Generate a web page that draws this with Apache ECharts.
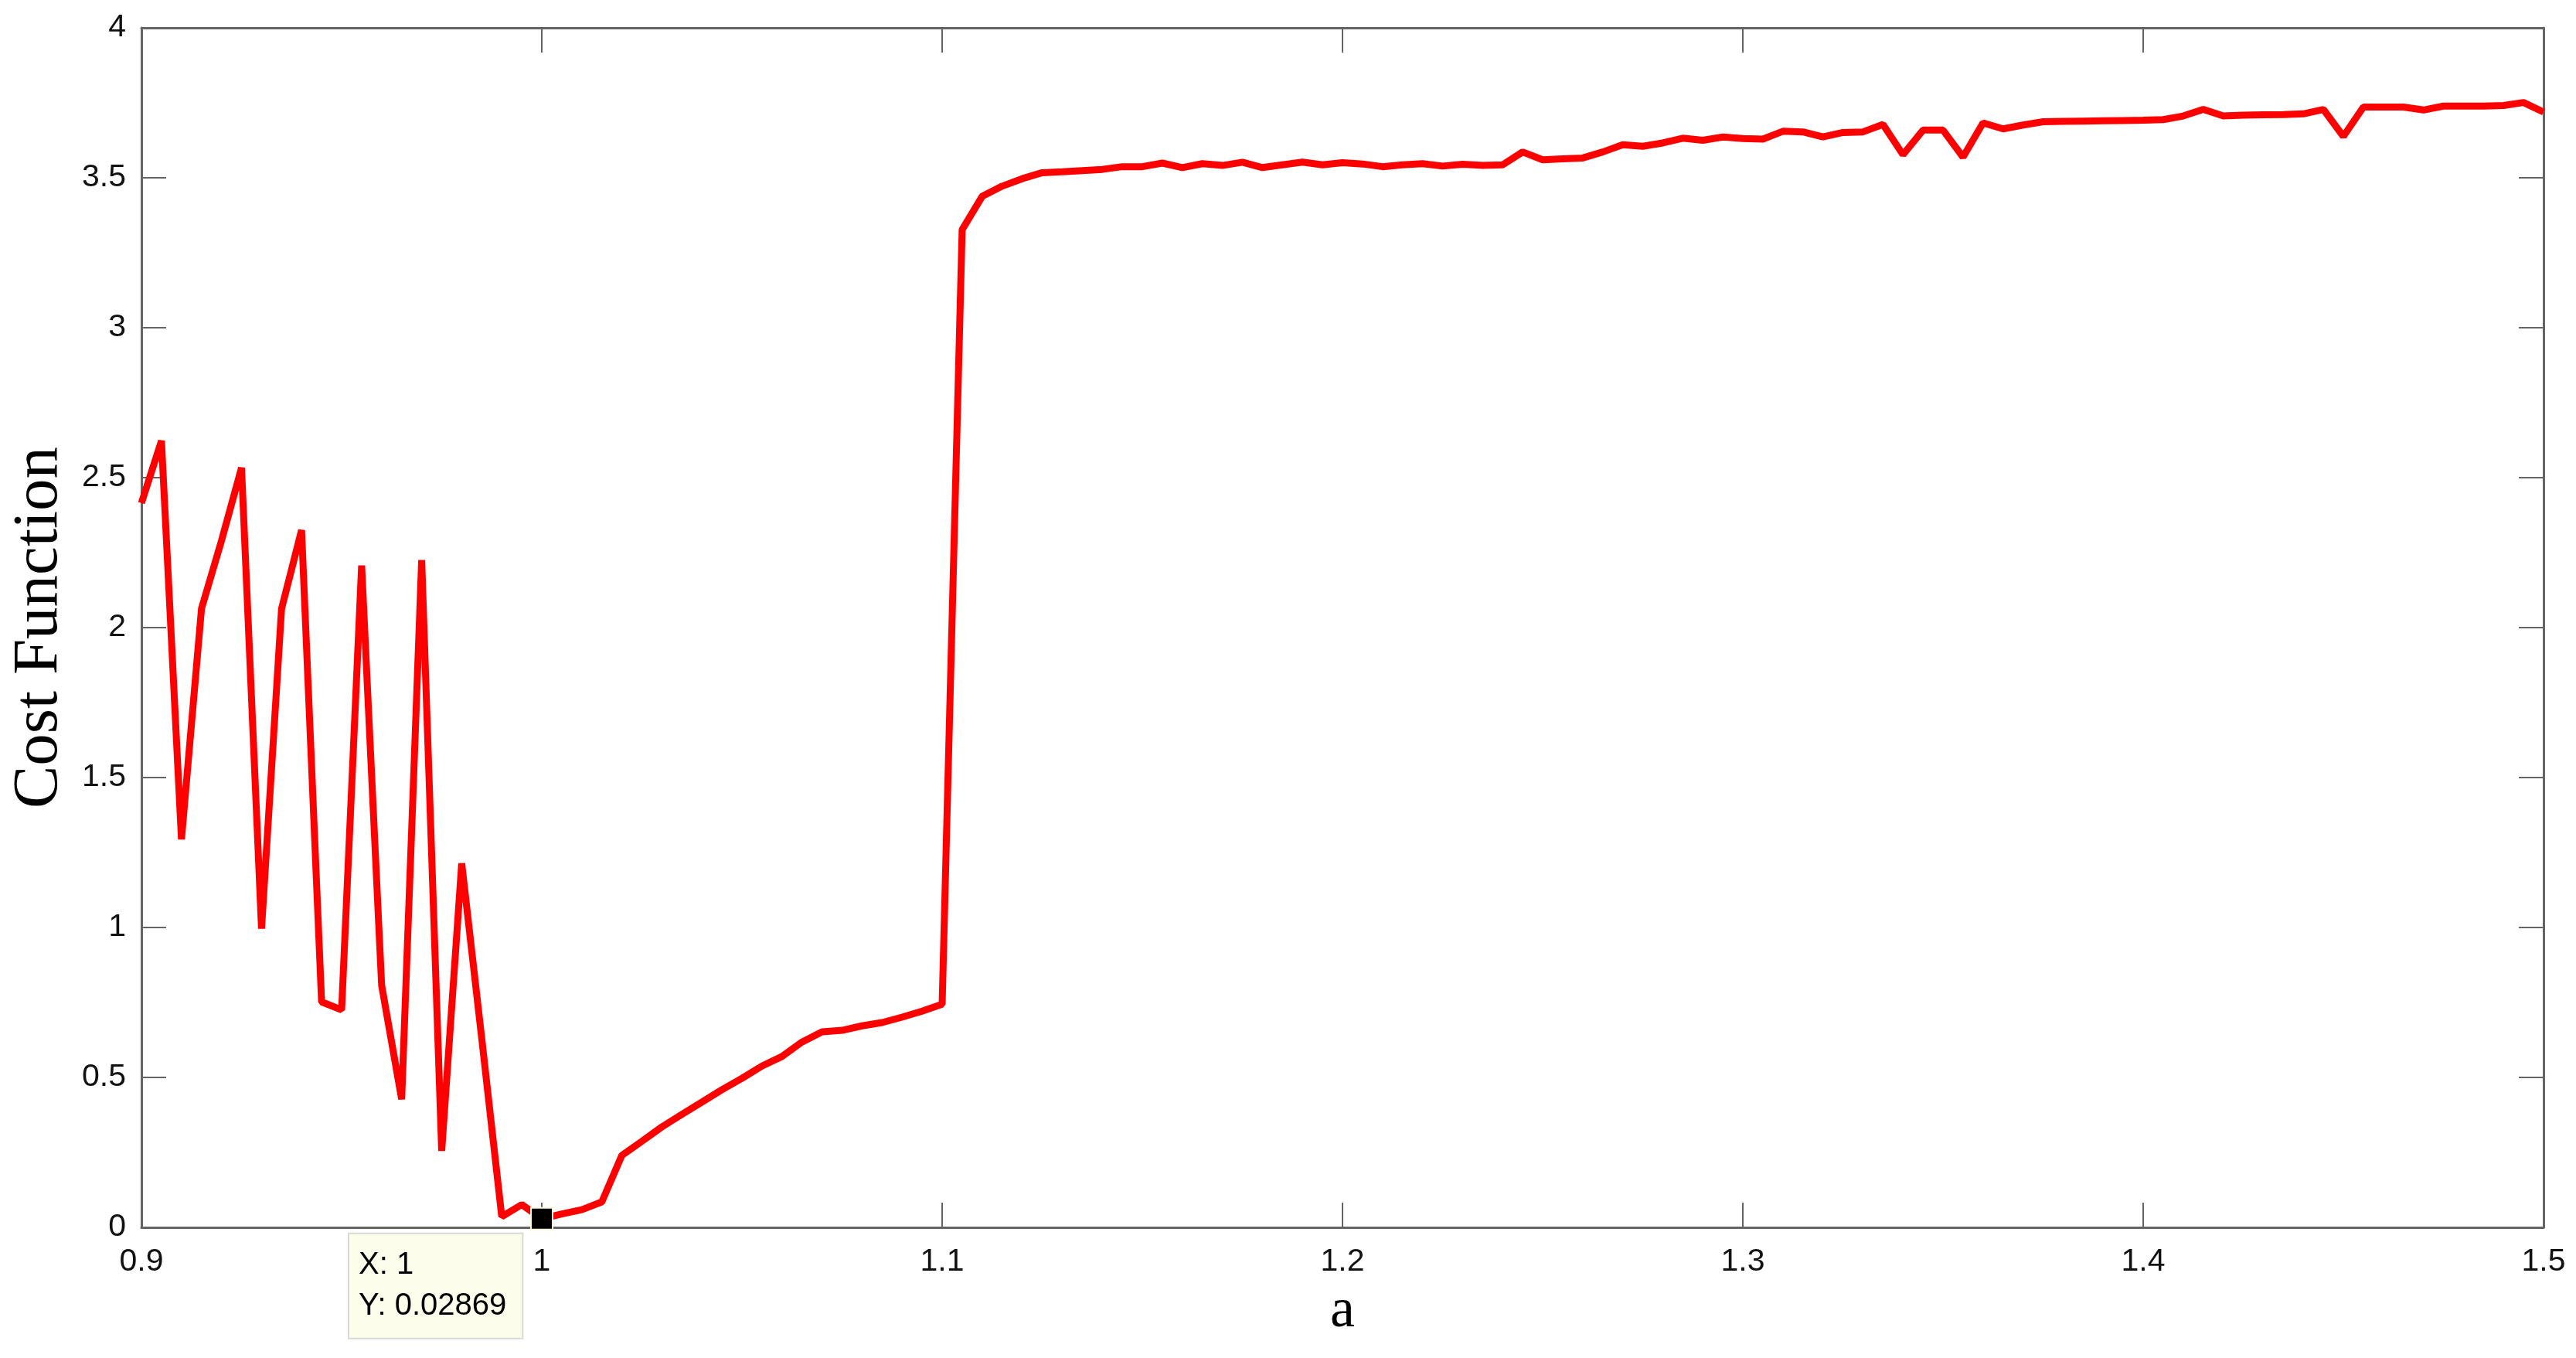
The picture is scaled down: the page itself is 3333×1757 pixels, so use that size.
<!DOCTYPE html>
<html>
<head>
<meta charset="utf-8">
<script src="https://cdn.jsdelivr.net/npm/echarts@6/dist/echarts.min.js"></script>
<style>
html,body{margin:0;padding:0;background:#fff;}
#chart{width:3333px;height:1757px;}
</style>
</head>
<body>
<div id="chart"></div>
<script>
// ---- data ----
var aValues = [
 0.900,0.905,0.910,0.915,0.920,0.925,0.930,0.935,0.940,0.945,
 0.950,0.955,0.960,0.965,0.970,0.975,0.980,0.985,0.990,0.995,
 1.000,1.005,1.010,1.015,1.020,1.025,1.030,1.035,1.040,1.045,
 1.050,1.055,1.060,1.065,1.070,1.075,1.080,1.085,1.090,1.095,
 1.100,1.105,1.110,1.115,1.120,1.125,1.130,1.135,1.140,1.145,
 1.150,1.155,1.160,1.165,1.170,1.175,1.180,1.185,1.190,1.195,
 1.200,1.205,1.210,1.215,1.220,1.225,1.230,1.235,1.240,1.245,
 1.250,1.255,1.260,1.265,1.270,1.275,1.280,1.285,1.290,1.295,
 1.300,1.305,1.310,1.315,1.320,1.325,1.330,1.335,1.340,1.345,
 1.350,1.355,1.360,1.365,1.370,1.375,1.380,1.385,1.390,1.395,
 1.400,1.405,1.410,1.415,1.420,1.425,1.430,1.435,1.440,1.445,
 1.450,1.455,1.460,1.465,1.470,1.475,1.480,1.485,1.490,1.495,
 1.500
];
var costValues = [
 2.415,2.623,1.294,2.063,2.290,2.533,0.996,2.063,2.325,0.752,
 0.725,2.207,0.807,0.427,2.225,0.255,1.214,0.630,0.036,0.076,
 0.02869,0.045,0.059,0.085,0.240,0.287,0.335,0.377,0.418,0.459,
 0.497,0.538,0.570,0.618,0.652,0.657,0.672,0.683,0.701,0.721,
 0.744,3.327,3.438,3.472,3.497,3.517,3.520,3.524,3.528,3.537,
 3.537,3.549,3.534,3.547,3.541,3.552,3.534,3.543,3.552,3.543,
 3.550,3.546,3.537,3.543,3.547,3.539,3.545,3.541,3.543,3.586,
 3.560,3.563,3.566,3.586,3.610,3.605,3.616,3.632,3.625,3.636,
 3.631,3.629,3.655,3.653,3.636,3.651,3.653,3.678,3.577,3.659,
 3.659,3.569,3.683,3.663,3.676,3.687,3.688,3.689,3.690,3.691,
 3.692,3.694,3.706,3.728,3.706,3.709,3.710,3.711,3.713,3.728,
 3.638,3.736,3.736,3.736,3.726,3.739,3.739,3.739,3.741,3.751,
 3.719
];
var dataTipX = 1;
var dataTipY = 0.02869;
var xLabel = 'a';
var yLabel = 'Cost Function';
var xMin = 0.9, xMax = 1.5, xStep = 0.1;
var yMin = 0, yMax = 4, yStep = 0.5;

var lineData = aValues.map(function (a, i) { return [a, costValues[i]]; });

var frameColor = '#646464';
var tickFont = 'Liberation Sans, Arial, sans-serif';
var titleFont = 'Liberation Serif, Times New Roman, serif';

function xAxisDef(pos, main) {
  return {
    type: 'value', position: pos, min: xMin, max: xMax, interval: xStep,
    name: main ? xLabel : '', nameLocation: 'middle', nameGap: 73,
    nameTextStyle: { fontFamily: titleFont, fontSize: 72, color: '#000' },
    axisLine: { show: true, onZero: false, lineStyle: { color: frameColor, width: 3 } },
    axisTick: { show: true, inside: true, length: 32, lineStyle: { color: frameColor, width: 2 } },
    axisLabel: { show: main, margin: 24, fontFamily: tickFont, fontSize: 41, color: '#111' },
    splitLine: { show: false }
  };
}
function yAxisDef(pos, main) {
  return {
    type: 'value', position: pos, min: yMin, max: yMax, interval: yStep,
    name: main ? yLabel : '', nameLocation: 'middle', nameGap: 90,
    nameTextStyle: { fontFamily: titleFont, fontSize: 83, color: '#000' },
    axisLine: { show: true, onZero: false, lineStyle: { color: frameColor, width: 3 } },
    axisTick: { show: true, inside: true, length: 32, lineStyle: { color: frameColor, width: 2 } },
    axisLabel: { show: main, margin: 20, fontFamily: tickFont, fontSize: 41, color: '#111' },
    splitLine: { show: false }
  };
}

var chart = echarts.init(document.getElementById('chart'), null, { renderer: 'canvas' });
chart.setOption({
  animation: false,
  backgroundColor: '#fff',
  grid: { left: 183, top: 36, right: 42, bottom: 169, containLabel: false },
  xAxis: [xAxisDef('bottom', true), xAxisDef('top', false)],
  yAxis: [yAxisDef('left', true), yAxisDef('right', false)],
  series: [
    {
      type: 'line', xAxisIndex: 0, yAxisIndex: 0,
      data: lineData, symbol: 'none', showSymbol: false,
      lineStyle: { color: '#ff0000', width: 9 },
      z: 2
    },
    {
      type: 'scatter', xAxisIndex: 0, yAxisIndex: 0,
      data: [[dataTipX, dataTipY]],
      symbol: 'rect', symbolSize: 28,
      itemStyle: { color: '#000', borderColor: '#fbf8d8', borderWidth: 2, opacity: 1 },
      label: {
        show: true,
        position: [-234, 35],
        formatter: function (p) { return 'X: ' + p.value[0] + '\nY: ' + p.value[1]; },
        fontFamily: tickFont, fontSize: 40, lineHeight: 53, color: '#000',
        backgroundColor: '#fdfdec', borderColor: '#d8d8d8', borderWidth: 2,
        padding: [14, 20, 14, 12], align: 'left', verticalAlign: 'top'
      },
      emphasis: { disabled: true },
      z: 5
    }
  ]
});
</script>
</body>
</html>
